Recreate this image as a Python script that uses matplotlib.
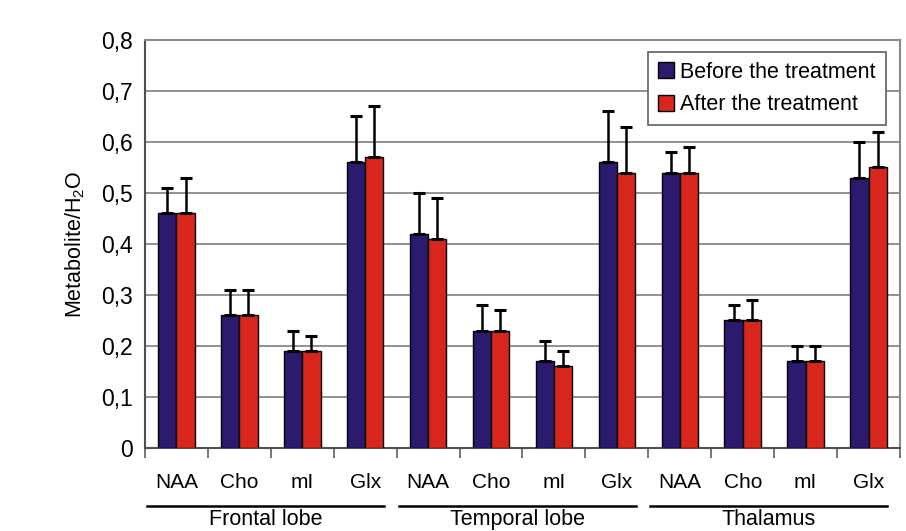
import numpy as np
import matplotlib
matplotlib.use('Agg')
import matplotlib.pyplot as plt
import matplotlib.transforms as mtransforms
from matplotlib.lines import Line2D

plt.rcParams['font.family'] = ['Liberation Sans', 'DejaVu Sans']
plt.rcParams['mathtext.default'] = 'regular'

# data
regions = ['Frontal lobe', 'Temporal lobe', 'Thalamus']
metabolites = ['NAA', 'Cho', 'mI', 'Glx']
before = [0.46, 0.26, 0.19, 0.56,
          0.42, 0.23, 0.17, 0.56,
          0.54, 0.25, 0.17, 0.53]
before_err = [0.05, 0.05, 0.04, 0.09,
              0.08, 0.05, 0.04, 0.10,
              0.04, 0.03, 0.03, 0.07]
after = [0.46, 0.26, 0.19, 0.57,
         0.41, 0.23, 0.16, 0.54,
         0.54, 0.25, 0.17, 0.55]
after_err = [0.07, 0.05, 0.03, 0.10,
             0.08, 0.04, 0.03, 0.09,
             0.05, 0.04, 0.03, 0.07]
y_ticks = [0, 0.1, 0.2, 0.3, 0.4, 0.5, 0.6, 0.7, 0.8]

c_before = '#2b1a6e'
c_after = '#d9261c'

fig = plt.figure(figsize=(9.06, 5.31), dpi=100)
ax = fig.add_axes([0.160, 0.1563, 0.8334, 0.7684])

n = len(before)
x = np.arange(n)
w = 0.29

zeros = np.zeros(n)
ax.bar(x - w / 2, before, w, color=c_before, edgecolor='black', linewidth=1.0,
       yerr=[zeros, before_err], capsize=4.5,
       error_kw=dict(elinewidth=1.8, capthick=2.2, ecolor='black'),
       label='Before the treatment', zorder=3)
ax.bar(x + w / 2, after, w, color=c_after, edgecolor='black', linewidth=1.0,
       yerr=[zeros, after_err], capsize=4.5,
       error_kw=dict(elinewidth=1.8, capthick=2.2, ecolor='black'),
       label='After the treatment', zorder=3)

ax.set_xlim(-0.5, n - 0.5)
ax.set_ylim(0, 0.8)
ax.set_yticks(y_ticks)
ax.set_yticklabels([('%.1f' % v).replace('.', ',') if v else '0' for v in y_ticks],
                   fontsize=16.5)
ax.yaxis.grid(True, color='#7f7f7f', linewidth=1.2, zorder=0)
ax.set_axisbelow(True)
ax.tick_params(axis='y', length=0, pad=9)

# category boundary ticks
ax.set_xticks(np.arange(n + 1) - 0.5)
ax.set_xticklabels([])
ax.tick_params(axis='x', direction='out', length=7, width=1.2, color='#606060')

for side in ['top', 'right']:
    ax.spines[side].set_color('#8a8a8a')
    ax.spines[side].set_linewidth(1.5)
ax.spines['left'].set_color('#505050')
ax.spines['left'].set_linewidth(1.5)
ax.spines['bottom'].set_color('#505050')
ax.spines['bottom'].set_linewidth(1.5)

ax.set_ylabel('Metabolite/H$_2$O', fontsize=15.5, labelpad=10)

# metabolite labels and region labels under the axis
trans = mtransforms.blended_transform_factory(ax.transData, fig.transFigure)
labels = metabolites * len(regions)
for i, lab in enumerate(labels):
    ax.text(i, 1 - 482 / 531, lab, transform=trans, ha='center', va='center',
            fontsize=15, family=['Liberation Sans Narrow', 'Liberation Sans'])

for g, reg in enumerate(regions):
    x0 = g * 4 - 0.47
    x1 = g * 4 + 3.3
    fig.add_artist(Line2D([x0, x1], [1 - 506 / 531] * 2, transform=trans,
                          color='black', linewidth=1.8, clip_on=False))
    ax.text((x0 + x1) / 2, 1 - 530 / 531, reg, transform=trans, ha='center',
            va='bottom', fontsize=15.5)

leg = ax.legend(loc='upper right', bbox_to_anchor=(0.981, 0.971), fontsize=15.5,
                frameon=True, fancybox=False, framealpha=1, edgecolor='#606060',
                handlelength=0.75, handleheight=0.75, handletextpad=0.3,
                borderpad=0.45, labelspacing=0.55, borderaxespad=0)
leg.get_frame().set_linewidth(1.2)

fig.savefig('out.png', dpi=100)
